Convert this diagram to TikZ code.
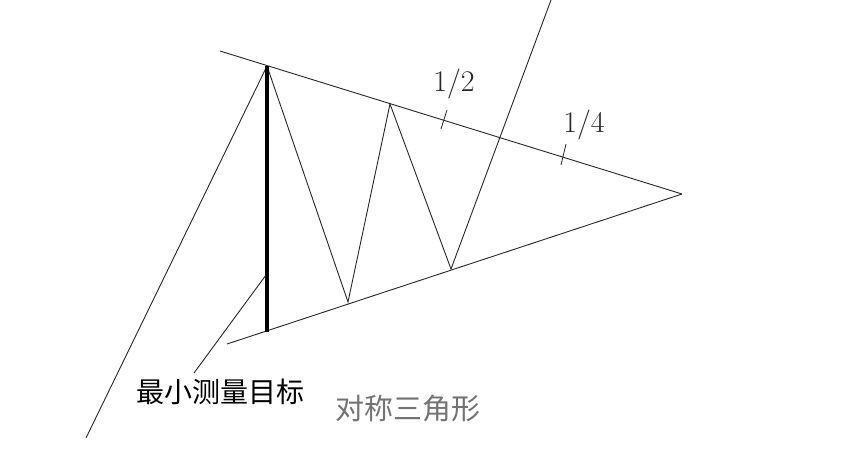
\documentclass[tikz,border=0pt]{standalone}
\usepackage{fontspec}
\newfontfamily\cjk{Noto Sans CJK SC}
\begin{document}
\begin{tikzpicture}[x=1pt,y=-1pt,
  thinline/.style={line width=0.9pt,black!85},
  boldline/.style={line width=3.4pt,black},
  tickline/.style={line width=0.8pt,black!85},
  numlabel/.style={font=\fontsize{30}{30}\selectfont,text=black!85},
  cjklabel/.style={font=\cjk\fontsize{28}{28}\selectfont}]
\useasboundingbox (0,0) rectangle (865,451);
% key points
\coordinate (ulstart) at (220,51);
\coordinate (apex) at (267,66);
\coordinate (tip) at (682,194);
\coordinate (llstart) at (227,344);
\coordinate (vbot) at (267,332);
\coordinate (z1) at (348,302);
\coordinate (z2) at (390,104);
\coordinate (z3) at (451,269);
\coordinate (z4) at (551,0);
\coordinate (lbase) at (86,438);
\coordinate (pt1) at (266,275);
\coordinate (pt2) at (194,373);
\coordinate (t1a) at (441,129);
\coordinate (t1b) at (447,110);
\coordinate (t2a) at (561,165);
\coordinate (t2b) at (566,144);
% lines
\draw[thinline] (ulstart) -- (tip);
\draw[thinline] (llstart) -- (tip);
\draw[thinline] (lbase) -- (apex);
\draw[thinline] (apex) -- (z1) -- (z2) -- (z3) -- (z4);
\draw[boldline] (apex) -- (vbot);
\draw[thinline] (pt1) -- (pt2);
\draw[tickline] (t1a) -- (t1b);
\draw[tickline] (t2a) -- (t2b);
% labels
\node[numlabel] (half) at (454,84) {1/2};
\node[numlabel] (quarter) at (584,125) {1/4};
\node[cjklabel,text=black,font=\cjk\fontsize{28}{28}\selectfont] (target) at (220,392) {最小测量目标};
\node[cjklabel,text=black!55,font=\cjk\fontsize{29}{29}\selectfont] (sym) at (408,409) {对称三角形};
\end{tikzpicture}
\end{document}
